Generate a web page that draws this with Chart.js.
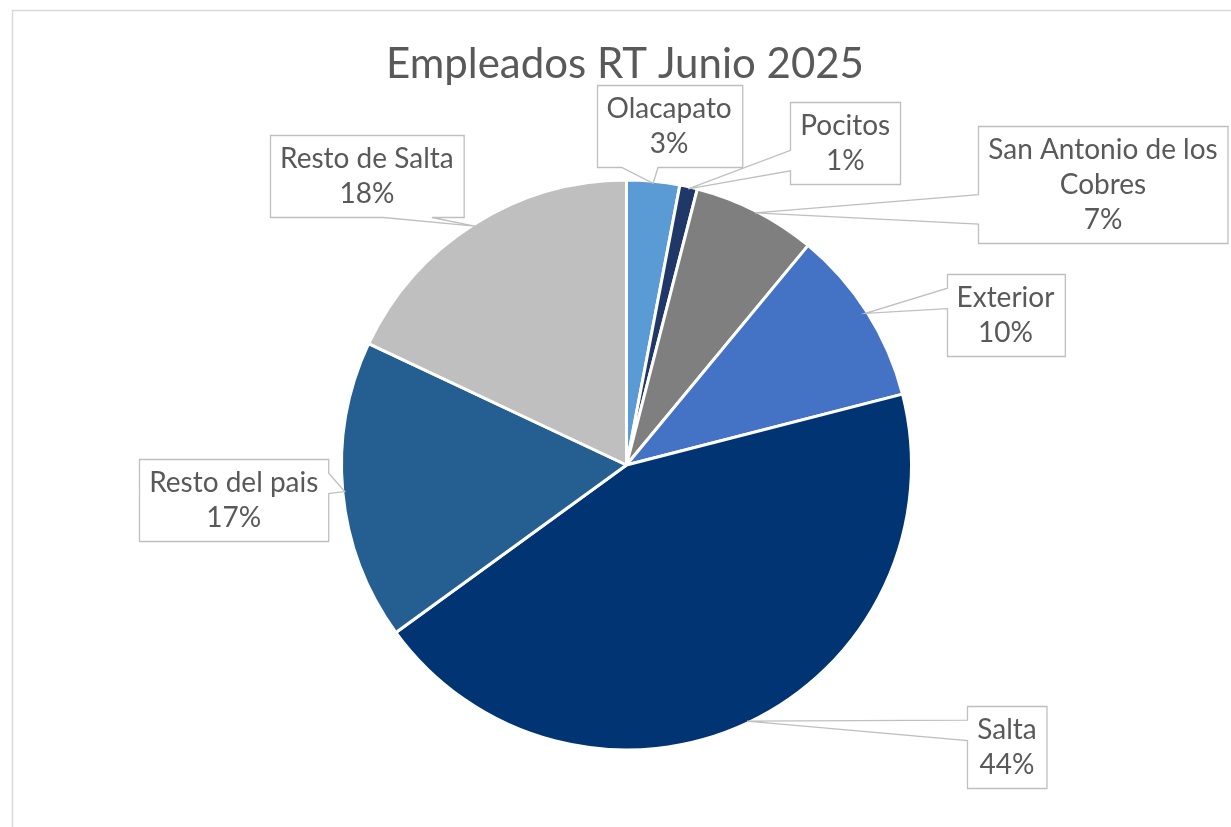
<!DOCTYPE html>
<html>
<head>
<meta charset="utf-8">
<script src="https://cdn.jsdelivr.net/npm/chart.js@4/dist/chart.umd.min.js"></script>
<style>
  html, body { margin: 0; padding: 0; background: #fff; overflow: hidden; }
  #wrap { position: relative; width: 1231px; height: 827px; }
</style>
</head>
<body>
<div id="wrap"><canvas id="c" width="1231" height="827"></canvas></div>
<script>
// ---- data ----
const chartTitle = 'Empleados RT Junio 2025';
const categories = ['Olacapato', 'Pocitos', 'San Antonio de los Cobres', 'Exterior', 'Salta', 'Resto del pais', 'Resto de Salta'];
const percentValues = [3, 1, 7, 10, 44, 17, 18];

// ---- styling ----
const sliceColors = ['#5B9BD5', '#1F3868', '#7F7F7F', '#4472C4', '#003473', '#255E91', '#BFBFBF'];
// callout box centre, relative to the point on the slice rim it points at
const calloutOffsets = [[16, -57], [157, -46], [348, -28], [140, 2], [260, 26], [-111, 8], [-108, -50]];

const FONT = 'Lato, "Open Sans", sans-serif';
const TEXT_COLOR = '#595959';
const BOX_BORDER = '#BFBFBF';
const TITLE_SIZE = 42;
const LABEL_SIZE = 28;
const LINE_H = 35;
const WRAP_W = 240;

function wrapText(ctx, text, maxW) {
  const words = text.split(' ');
  const lines = [];
  let cur = '';
  for (const w of words) {
    const t = cur ? cur + ' ' + w : w;
    if (cur && ctx.measureText(t).width > maxW) { lines.push(cur); cur = w; }
    else cur = t;
  }
  if (cur) lines.push(cur);
  return lines;
}

// rectangle callout with a wedge pointing at (tx, ty)
function calloutPath(ctx, l, t, w, h, tx, ty) {
  const r = l + w, b = t + h;
  const cx = l + w / 2, cy = t + h / 2;
  const dxPos = tx - cx, dyPos = ty - cy;
  const dq = dxPos * h / w;
  const sideLR = Math.abs(dq) - Math.abs(dyPos) > 0;
  const x1 = l + w * (dxPos > 0 ? 7 : 2) / 12, x2 = l + w * (dxPos > 0 ? 10 : 5) / 12;
  const y1 = t + h * (dyPos > 0 ? 7 : 2) / 12, y2 = t + h * (dyPos > 0 ? 10 : 5) / 12;
  ctx.beginPath();
  ctx.moveTo(l, t);
  if (!sideLR && dyPos < 0) { ctx.lineTo(x1, t); ctx.lineTo(tx, ty); ctx.lineTo(x2, t); }
  ctx.lineTo(r, t);
  if (sideLR && dxPos > 0) { ctx.lineTo(r, y1); ctx.lineTo(tx, ty); ctx.lineTo(r, y2); }
  ctx.lineTo(r, b);
  if (!sideLR && dyPos > 0) { ctx.lineTo(x2, b); ctx.lineTo(tx, ty); ctx.lineTo(x1, b); }
  ctx.lineTo(l, b);
  if (sideLR && dxPos < 0) { ctx.lineTo(l, y2); ctx.lineTo(tx, ty); ctx.lineTo(l, y1); }
  ctx.closePath();
}

const framePlugin = {
  id: 'frame',
  beforeDraw(chart) {
    const ctx = chart.ctx;
    ctx.save();
    ctx.fillStyle = '#fff';
    ctx.fillRect(0, 0, chart.width, chart.height);
    ctx.strokeStyle = '#D9D9D9';
    ctx.lineWidth = 1.5;
    ctx.strokeRect(12.5, 10.5, chart.width + 20, chart.height + 20);
    ctx.restore();
  }
};

const calloutPlugin = {
  id: 'callouts',
  afterDraw(chart) {
    const ctx = chart.ctx;
    ctx.save();
    // title
    ctx.fillStyle = TEXT_COLOR;
    ctx.font = TITLE_SIZE + 'px ' + FONT;
    ctx.textAlign = 'center';
    ctx.textBaseline = 'alphabetic';
    ctx.fillText(chartTitle, 625, 78);

    const meta = chart.getDatasetMeta(0);
    ctx.font = LABEL_SIZE + 'px ' + FONT;
    meta.data.forEach((arc, i) => {
      const p = arc.getProps(['x', 'y', 'startAngle', 'endAngle', 'outerRadius'], true);
      const mid = (p.startAngle + p.endAngle) / 2;
      const tx = p.x + Math.cos(mid) * (p.outerRadius - 2);
      const ty = p.y + Math.sin(mid) * (p.outerRadius - 2);
      const lines = wrapText(ctx, categories[i], WRAP_W).concat([percentValues[i] + '%']);
      const tw = Math.max(...lines.map(s => ctx.measureText(s).width));
      const w = tw + 20, h = lines.length * LINE_H + 12;
      const cx = tx + calloutOffsets[i][0], cy = ty + calloutOffsets[i][1];
      const l = Math.round(cx - w / 2) + 0.5, t = Math.round(cy - h / 2) + 0.5;
      calloutPath(ctx, l, t, w, h, tx, ty);
      ctx.fillStyle = '#fff';
      ctx.fill();
      ctx.strokeStyle = BOX_BORDER;
      ctx.lineWidth = 1.3;
      ctx.stroke();
      ctx.fillStyle = TEXT_COLOR;
      ctx.textAlign = 'center';
      ctx.textBaseline = 'middle';
      lines.forEach((s, k) => {
        ctx.fillText(s, cx, t + h / 2 + (k - (lines.length - 1) / 2) * LINE_H);
      });
    });
    ctx.restore();
  }
};

new Chart(document.getElementById('c'), {
  type: 'pie',
  data: {
    labels: categories,
    datasets: [{
      data: percentValues,
      backgroundColor: sliceColors,
      borderColor: '#ffffff',
      borderWidth: 3
    }]
  },
  options: {
    responsive: false,
    animation: false,
    layout: { padding: { left: 340, right: 318, top: 178, bottom: 75 } },
    plugins: { legend: { display: false }, tooltip: { enabled: false }, title: { display: false } }
  },
  plugins: [framePlugin, calloutPlugin]
});
</script>
</body>
</html>
